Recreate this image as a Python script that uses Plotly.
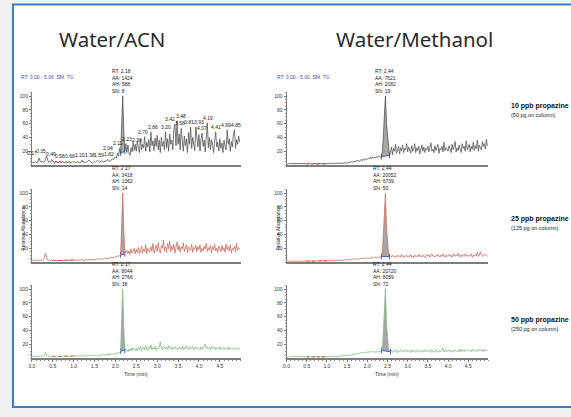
import plotly.graph_objects as go

W, H = 571, 417
STEP = 0.025
time_min = [round(i * STEP, 3) for i in range(200)]

# ---- chromatogram traces: relative abundance (%) sampled every 0.025 min ----
acn_10ppb = [
    3, 4, 3, 5, 4, 3, 6, 10, 5, 4, 6, 4, 5, 7, 13, 6, 4, 5, 4, 8,
    5, 4, 3, 6, 4, 3, 4, 6, 3, 5, 4, 3, 4, 5, 3, 4, 5, 3, 4, 5,
    4, 5, 3, 4, 5, 4, 3, 4, 7, 4, 5, 3, 4, 4, 5, 7, 5, 4, 3, 4,
    5, 4, 6, 7, 5, 4, 5, 6, 5, 4, 6, 5, 7, 8, 6, 5, 7, 9, 8, 10,
    12, 10, 17, 13, 24, 17, 55, 100, 50, 20, 31, 18, 29, 17, 14, 25, 19, 33, 21, 30,
    20, 35, 24, 18, 38, 22, 30, 25, 41, 20, 33, 26, 37, 19, 48, 28, 35, 21, 39, 27,
    43, 22, 36, 18, 40, 27, 34, 22, 48, 25, 38, 20, 45, 30, 36, 22, 52, 59, 28, 64,
    30, 45, 22, 53, 35, 20, 42, 28, 38, 18, 47, 30, 55, 24, 40, 33, 21, 55, 35, 26,
    44, 20, 38, 46, 27, 36, 19, 42, 61, 25, 40, 22, 37, 30, 18, 35, 48, 26, 33, 20,
    38, 24, 32, 18, 36, 27, 22, 51, 30, 38, 20, 34, 26, 45, 51, 24, 37, 30, 42, 33,
]
acn_25ppb = [
    2, 3, 2, 3, 2, 3, 2, 3, 2, 3, 2, 3, 5, 13, 6, 3, 2, 3, 2, 3,
    2, 3, 2, 2, 3, 2, 3, 2, 3, 2, 2, 3, 2, 3, 2, 3, 2, 2, 3, 2,
    3, 2, 3, 2, 3, 3, 2, 3, 4, 3, 2, 3, 3, 4, 3, 3, 4, 3, 4, 3,
    4, 3, 4, 4, 5, 4, 4, 5, 4, 5, 6, 5, 5, 6, 5, 7, 6, 6, 7, 6,
    8, 7, 9, 8, 10, 10, 52, 100, 48, 12, 14, 17, 12, 16, 11, 19, 13, 15, 20, 12,
    18, 14, 21, 12, 16, 23, 13, 19, 15, 25, 12, 20, 17, 14, 22, 16, 27, 13, 19, 24,
    15, 28, 18, 13, 24, 20, 32, 16, 22, 14, 27, 19, 30, 15, 23, 18, 26, 13, 21, 29,
    17, 24, 14, 22, 19, 28, 15, 20, 25, 13, 22, 18, 16, 26, 14, 21, 19, 24, 15, 22,
    18, 25, 14, 20, 16, 23, 19, 27, 15, 21, 17, 24, 13, 22, 18, 26, 16, 20, 14, 23,
    19, 15, 24, 17, 21, 14, 26, 18, 22, 16, 25, 13, 20, 18, 23, 15, 27, 17, 21, 19,
]
acn_50ppb = [
    2, 2, 3, 2, 2, 3, 2, 2, 3, 2, 2, 3, 4, 8, 4, 3, 2, 2, 3, 2,
    2, 3, 2, 2, 3, 2, 2, 3, 2, 2, 3, 2, 2, 3, 2, 2, 3, 2, 2, 3,
    3, 2, 3, 3, 2, 3, 3, 2, 3, 3, 3, 2, 3, 3, 3, 4, 3, 3, 4, 3,
    3, 4, 3, 4, 4, 3, 4, 4, 5, 4, 4, 5, 5, 4, 5, 5, 6, 5, 6, 6,
    7, 6, 8, 7, 8, 10, 55, 100, 45, 11, 12, 12, 9, 13, 10, 14, 11, 15, 12, 11,
    14, 10, 15, 12, 17, 11, 14, 16, 12, 18, 13, 11, 16, 14, 19, 12, 15, 13, 17, 11,
    15, 13, 16, 23, 14, 12, 17, 15, 13, 16, 12, 18, 14, 13, 16, 12, 15, 17, 13, 14,
    12, 16, 14, 13, 17, 12, 15, 13, 18, 14, 12, 16, 13, 15, 17, 12, 14, 16, 13, 15,
    14, 12, 16, 13, 15, 19, 20, 14, 16, 13, 15, 12, 17, 14, 13, 16, 12, 15, 14, 13,
    16, 12, 14, 13, 15, 12, 14, 13, 16, 12, 15, 13, 14, 12, 15, 13, 12, 14, 13, 15,
]
meoh_10ppb = [
    2, 1, 2, 2, 1, 2, 1, 2, 2, 1, 2, 1, 2, 2, 1, 2, 2, 1, 2, 1,
    2, 1, 2, 2, 3, 1, 2, 2, 1, 2, 2, 1, 2, 2, 1, 2, 2, 1, 2, 2,
    2, 1, 2, 2, 3, 2, 2, 3, 2, 2, 3, 2, 3, 2, 3, 2, 3, 3, 2, 3,
    3, 3, 4, 3, 5, 4, 5, 4, 6, 5, 7, 6, 5, 7, 8, 6, 9, 8, 7, 9,
    8, 10, 9, 11, 9, 12, 10, 11, 10, 12, 11, 13, 12, 11, 12, 20, 45, 75, 100, 60,
    40, 24, 14, 18, 26, 15, 24, 20, 30, 17, 23, 27, 16, 25, 21, 29, 18, 24, 22, 31,
    19, 26, 22, 17, 28, 20, 24, 31, 18, 25, 21, 27, 16, 23, 29, 20, 26, 18, 24, 22,
    27, 19, 25, 32, 20, 23, 18, 28, 21, 26, 30, 17, 24, 22, 27, 19, 33, 21, 25, 23,
    20, 28, 24, 18, 30, 22, 26, 34, 19, 25, 21, 29, 23, 18, 31, 24, 27, 20, 35, 22,
    26, 30, 19, 27, 23, 33, 21, 28, 24, 36, 20, 29, 25, 22, 34, 27, 31, 23, 37, 28,
]
meoh_25ppb = [
    1, 2, 1, 2, 1, 1, 2, 1, 2, 1, 1, 2, 1, 2, 1, 1, 2, 1, 2, 1,
    1, 2, 1, 1, 2, 1, 2, 1, 1, 2, 1, 2, 1, 1, 2, 1, 2, 1, 1, 2,
    2, 1, 2, 2, 1, 2, 2, 2, 1, 2, 2, 2, 3, 2, 2, 3, 2, 3, 3, 2,
    3, 3, 4, 3, 4, 4, 3, 4, 5, 4, 4, 5, 4, 5, 5, 4, 5, 6, 5, 5,
    6, 5, 6, 6, 5, 7, 6, 6, 7, 6, 7, 7, 6, 7, 8, 15, 42, 78, 100, 52,
    22, 10, 8, 9, 7, 10, 8, 6, 9, 7, 10, 8, 9, 7, 11, 8, 6, 9, 8, 10,
    7, 9, 8, 11, 7, 9, 6, 10, 8, 9, 7, 11, 8, 9, 7, 10, 8, 6, 9, 11,
    8, 10, 7, 9, 12, 8, 9, 7, 10, 8, 11, 9, 7, 10, 8, 12, 9, 7, 10, 8,
    9, 11, 8, 10, 7, 9, 12, 8, 10, 9, 13, 8, 10, 7, 11, 9, 8, 12, 9, 10,
    8, 10, 9, 12, 7, 10, 8, 11, 9, 14, 8, 10, 15, 11, 8, 10, 12, 9, 10, 8,
]
meoh_50ppb = [
    2, 1, 2, 1, 2, 2, 1, 2, 1, 2, 1, 2, 2, 1, 2, 1, 2, 1, 2, 2,
    1, 2, 1, 2, 2, 1, 2, 1, 2, 1, 2, 2, 1, 2, 1, 2, 1, 2, 2, 1,
    2, 2, 1, 2, 2, 3, 2, 2, 3, 2, 3, 2, 3, 3, 2, 3, 3, 3, 4, 3,
    4, 3, 4, 5, 4, 5, 5, 6, 5, 6, 7, 6, 7, 7, 8, 7, 8, 8, 7, 9,
    8, 9, 8, 10, 9, 8, 10, 9, 8, 9, 10, 9, 10, 9, 11, 14, 40, 80, 100, 50,
    25, 14, 10, 9, 11, 8, 10, 12, 9, 11, 8, 10, 9, 12, 10, 8, 11, 9, 10, 12,
    9, 11, 10, 8, 12, 9, 10, 11, 8, 10, 12, 9, 11, 10, 8, 11, 9, 12, 10, 9,
    11, 9, 10, 12, 8, 11, 10, 9, 12, 10, 8, 11, 9, 10, 11, 14, 9, 10, 12, 9,
    10, 12, 9, 11, 10, 8, 12, 10, 11, 9, 10, 12, 9, 13, 10, 11, 9, 12, 10, 11,
    12, 10, 11, 9, 13, 10, 12, 11, 9, 12, 10, 13, 11, 10, 12, 9, 13, 11, 10, 12,
]

# labelled apex times on the 10 ppb Water/ACN trace
acn_10ppb_apex_labels = [0.17, 0.35, 0.49, 0.58, 0.68, 1.20, 1.38, 1.59, 1.82, 2.04,
                         2.11, 2.23, 2.30, 2.70, 2.86, 3.20, 3.42, 3.48, 3.58, 3.81,
                         3.93, 4.07, 4.19, 4.41, 4.69, 4.85]

column_titles = ["Water/ACN", "Water/Methanol"]
column_headers = ["RT: 0.00 - 5.06  SM: 7G", "RT: 0.00 - 5.00  SM: 7G"]
row_labels = ["10 ppb propazine", "25 ppb propazine", "50 ppb propazine"]
row_sublabels = ["(50 pg on column)", "(125 pg on column)", "(250 pg on column)"]

rt_acn = [2.18, 2.17, 2.17]
aa_acn = [1424, 3418, 8044]
ah_acn = [588, 1362, 2766]
sn_acn = [8, 14, 38]
nl_acn = ["7.98E2", "1.65E3", "3.33E3"]
file_acn = ["A005_variabilitio<br>n_Propazine_11_<br>10ppb",
            "a005_variabilitio<br>n_propazine_11_<br>25ppb",
            "a005_variabilitio<br>n_propazine_11_<br>50ppb"]
window_acn = [(2.125, 2.225), (2.125, 2.225), (2.125, 2.225)]

rt_meoh = [2.44, 2.44, 2.44]
aa_meoh = [7621, 20052, 20720]
ah_meoh = [2082, 6739, 8059]
sn_meoh = [19, 50, 72]
nl_meoh = ["2.48E3", "7.18E3", "8.43E3"]
file_meoh = ["A405_propaz<br>ine_10ppb", "a405_propaz<br>ine_25ppb", "a405_propaz<br>ine_50ppb"]
window_meoh = [(2.35, 2.55), (2.35, 2.55), (2.35, 2.575)]

noise_window = (0.5, 1.0)
x_ticks = [0.0, 0.5, 1.0, 1.5, 2.0, 2.5, 3.0, 3.5, 4.0, 4.5]
y_ticks = [20, 40, 60, 80, 100]

# ---- styling / layout constants ----
TRACE_COLORS = ["#555555", "#c8705e", "#7dba7d"]
NL_COLORS = ["#333333", "#b8452f", "#3f9a3f"]
FILL = "rgba(150,150,150,0.85)"
BLUE = "#3b5fd0"
RED = "#e0402a"
TINY = "Liberation Sans Narrow, Liberation Sans, Arial"
COL_X = [(29, 239), (285, 488)]
ROW_BASE = [165, 262, 358]
PX100 = 69
Y_MAX = 106


def pxx(p):
    return p / W


def pxy(p):
    return 1 - p / H


series = [[acn_10ppb, meoh_10ppb], [acn_25ppb, meoh_25ppb], [acn_50ppb, meoh_50ppb]]
rts = [rt_acn, rt_meoh]
aas = [aa_acn, aa_meoh]
ahs = [ah_acn, ah_meoh]
sns = [sn_acn, sn_meoh]
nls = [nl_acn, nl_meoh]
files = [file_acn, file_meoh]
windows = [window_acn, window_meoh]

fig = go.Figure()
layout = dict(
    width=W, height=H, margin=dict(l=0, r=0, t=0, b=0),
    paper_bgcolor="#f1f1f1", plot_bgcolor="rgba(0,0,0,0)",
    showlegend=False,
)
annotations = []
tick_font = dict(family=TINY, size=5, color="#333333")

for r in range(3):
    for c in range(2):
        k = r * 2 + c + 1
        xa, ya = f"x{k}", f"y{k}"
        ys = series[r][c]
        color = TRACE_COLORS[r]
        rt = rts[c][r]
        w0, w1 = windows[c][r]

        idx = [i for i, t in enumerate(time_min) if w0 - 1e-9 <= t <= w1 + 1e-9]
        # integration baseline (blue) then filled peak area above it
        fig.add_trace(go.Scatter(
            x=[time_min[idx[0]], time_min[idx[-1]]], y=[ys[idx[0]], ys[idx[-1]]],
            mode="lines+markers", line=dict(color=BLUE, width=1),
            marker=dict(symbol="line-ns-open", size=4, color=BLUE, line=dict(width=1, color=BLUE)),
            xaxis=xa, yaxis=ya, hoverinfo="skip"))
        fig.add_trace(go.Scatter(
            x=[time_min[i] for i in idx], y=[ys[i] for i in idx],
            mode="lines", line=dict(width=0, color=FILL), fill="tonexty", fillcolor=FILL,
            xaxis=xa, yaxis=ya, hoverinfo="skip"))
        # chromatogram
        fig.add_trace(go.Scatter(
            x=time_min, y=ys, mode="lines", line=dict(color=color, width=0.8),
            xaxis=xa, yaxis=ya))
        # noise region marker (red)
        nidx = [i for i, t in enumerate(time_min) if noise_window[0] <= t <= noise_window[1]]
        fig.add_trace(go.Scatter(
            x=[time_min[i] for i in nidx], y=[ys[i] for i in nidx], mode="lines",
            line=dict(color=RED, width=0.9, dash="dot"), xaxis=xa, yaxis=ya, hoverinfo="skip"))

        bottom = r == 2
        layout[f"xaxis{k}"] = dict(
            domain=[pxx(COL_X[c][0]), pxx(COL_X[c][1])], range=[0, 5.0], anchor=ya,
            showline=True, linecolor="#7d7d7d", linewidth=1.6, showgrid=False, zeroline=False,
            tickvals=x_ticks, ticktext=[f"{v:.1f}" for v in x_ticks],
            showticklabels=bottom, ticks="outside" if bottom else "", ticklen=2,
            tickcolor="#777777", tickwidth=0.6, tickfont=tick_font,
            minor=dict(dtick=0.1, ticks="outside", ticklen=1.5, tickcolor="#888888", tickwidth=0.5) if bottom else None,
        )
        base = ROW_BASE[r]
        layout[f"yaxis{k}"] = dict(
            domain=[pxy(base), pxy(base - PX100 * Y_MAX / 100)], range=[0, Y_MAX], anchor=xa,
            showline=True, linecolor="#7d7d7d", linewidth=0.8, showgrid=False, zeroline=False,
            tickvals=y_ticks, ticks="outside", ticklen=2, tickcolor="#777777", tickwidth=0.6,
            tickfont=tick_font,
            minor=dict(dtick=5, ticks="outside", ticklen=1, tickcolor="#999999", tickwidth=0.5),
        )

        # peak info block
        annotations.append(dict(
            x=rt, y=100, xref=xa, yref=ya, xanchor="center", yanchor="bottom", align="left",
            showarrow=False, font=dict(family=TINY, size=5, color="#222222"),
            text=f"RT: {rt:.2f}<br>AA: {aas[c][r]}<br>AH: {ahs[c][r]}<br>SN: {sns[c][r]}"))
        annotations.append(dict(
            x=rt + 0.33, y=112, xref=xa, yref=ya, xanchor="left", yanchor="middle",
            showarrow=False, font=dict(family=TINY, size=5, color=RED),
            text=f"S/N = {sns[c][r]}"))
        if c == 0:
            nl_text = f"NL:<br>{nls[c][r]}<br>m/z=<br>229.50-230.50<br>MS Genesis<br>{files[c][r]}"
        else:
            nl_text = f"NL:<br>{nls[c][r]}<br>m/z=<br>229.50-<br>230.50 MS<br>Genesis<br>{files[c][r]}"
        annotations.append(dict(
            x=5.0, y=138, xref=xa, yref=ya, xanchor="left", yanchor="top", align="left",
            showarrow=False, font=dict(family=TINY, size=5, color=NL_COLORS[r]), text=nl_text))

        if r == 1:
            annotations.append(dict(
                x=pxx(COL_X[c][0] - 9), y=pxy(228), xref="paper", yref="paper",
                xanchor="center", yanchor="middle",
                textangle=-90, showarrow=False, font=dict(family=TINY, size=5, color="#333333"),
                text="Relative Abundance"))
        if r == 2:
            annotations.append(dict(
                x=2.5, y=pxy(374), xref=xa, yref="paper", xanchor="center", yanchor="middle",
                showarrow=False, font=dict(family=TINY, size=5, color="#333333"), text="Time (min)"))

# apex labels on 10 ppb Water/ACN, spread sideways (both directions) to limit collisions
LABEL_W, LABEL_H = 9.5, 6.0
px_per_min = (COL_X[0][1] - COL_X[0][0]) / 5.0
lab = []
for t in acn_10ppb_apex_labels:
    near = [i for i, tt in enumerate(time_min) if abs(tt - t) <= 0.026]
    yv = max(acn_10ppb[i] for i in near)
    lab.append([t, yv, t * px_per_min, yv * PX100 / 100])
pos = [l[2] for l in lab]
for _ in range(60):
    for i in range(len(lab)):
        for j in range(i + 1, len(lab)):
            if abs(lab[i][3] - lab[j][3]) < LABEL_H:
                gap = pos[j] - pos[i]
                if gap < LABEL_W:
                    d = (LABEL_W - gap) / 2
                    pos[i] -= d
                    pos[j] += d
for (t, yv, cx, cy), p in zip(lab, pos):
    annotations.append(dict(
        x=t, y=yv, xref="x1", yref="y1", xanchor="center", yanchor="bottom", xshift=p - cx,
        showarrow=False, font=dict(family=TINY, size=5, color="#222222"), text=f"{t:.2f}"))

# column titles / headers
title_x = [110, 414]
for c in range(2):
    annotations.append(dict(
        x=pxx(title_x[c]), y=pxy(39), xref="paper", yref="paper", showarrow=False,
        xanchor="center", yanchor="middle",
        font=dict(family="Noto Sans, Open Sans, sans-serif", size=20.5, color="#2a2a2a"),
        text=column_titles[c]))
    annotations.append(dict(
        x=pxx([16, 273][c]), y=pxy(77), xref="paper", yref="paper", xanchor="left",
        yanchor="middle",
        showarrow=False, font=dict(family=TINY, size=5, color="#4a4aa8"), text=column_headers[c]))

# row labels on the right
label_y = [106, 219, 320]
for r in range(3):
    annotations.append(dict(
        x=pxx(509), y=pxy(label_y[r]), xref="paper", yref="paper", xanchor="left",
        yanchor="middle",
        showarrow=False, font=dict(family="Liberation Sans, Arial", size=7, color="#111111"),
        text=f"<b>{row_labels[r]}</b>"))
    annotations.append(dict(
        x=pxx(509), y=pxy(label_y[r] + 9), xref="paper", yref="paper", xanchor="left",
        yanchor="middle",
        showarrow=False, font=dict(family="Liberation Sans, Arial", size=5.5, color="#222222"),
        text=row_sublabels[r]))

layout["annotations"] = annotations
layout["shapes"] = [dict(
    type="rect", xref="paper", yref="paper", x0=pxx(10), x1=1.05, y0=pxy(407), y1=pxy(4.5),
    fillcolor="white", line=dict(color="#3b7cc4", width=2), layer="below")]

fig.update_layout(**layout)
fig.write_html(
    "out.html",
    config={"displayModeBar": False},
    post_script="document.body.style.margin='0';document.body.style.overflow='hidden';",
)
